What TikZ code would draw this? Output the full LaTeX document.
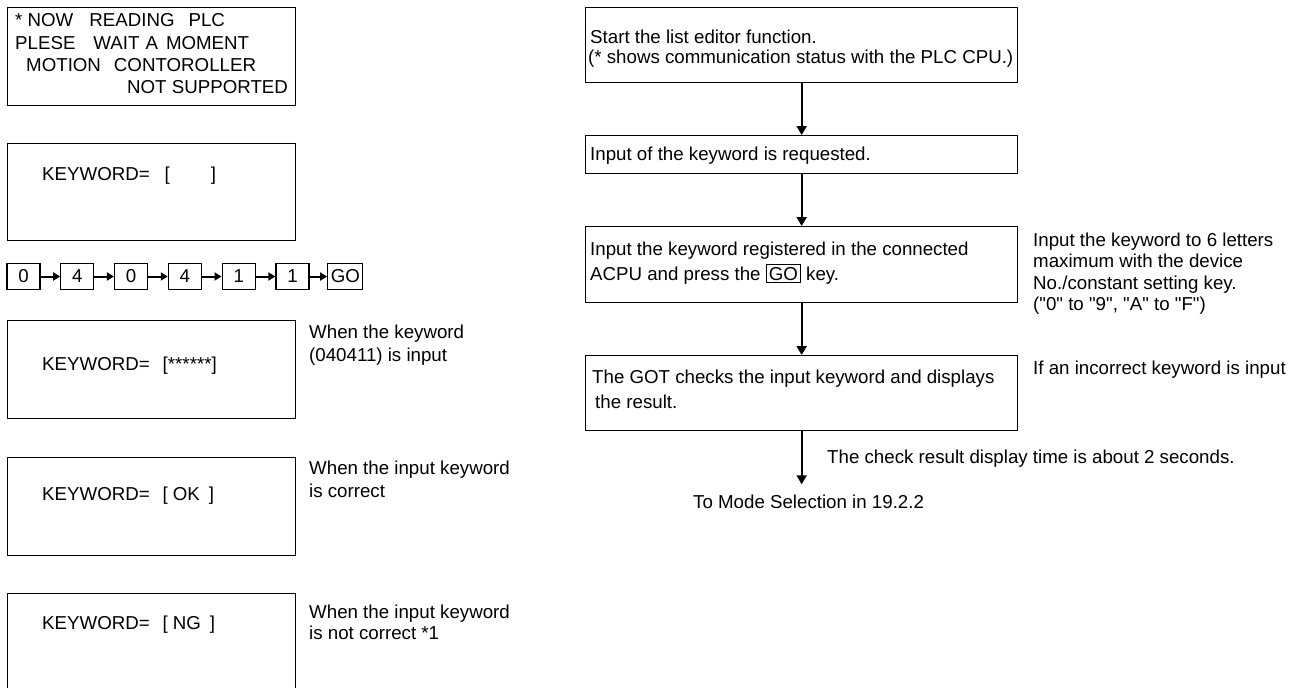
\documentclass[tikz,border=0pt]{standalone}
\usepackage{fontspec}
\setmainfont{Liberation Sans}[Ligatures=TeXOff]
\usetikzlibrary{arrows.meta,positioning,calc}

\tikzset{
  screen/.style={draw,line width=1.3pt,anchor=north west,inner sep=0pt,
    minimum width=288pt,minimum height=98pt},
  flowbox/.style={draw,line width=1.3pt,anchor=north west,inner sep=0pt,
    minimum width=432pt},
  txt/.style={anchor=base west,inner sep=0pt,align=left},
  txtblock/.style={anchor=north west,inner sep=0pt,align=left},
  keyrect/.style={draw,line width=1.3pt,minimum width=33pt,minimum height=26pt,inner sep=0pt},
  flowarrow/.style={line width=2pt,-{Triangle[length=9pt,width=10pt]}},
  keyarrow/.style={line width=2pt,-{Triangle[length=7pt,width=8pt]}}
}
\newcommand{\keyframe}[1]{{\fboxsep=2pt\fboxrule=1pt\fbox{#1}}}

\begin{document}
\begin{tikzpicture}[x=1pt,y=-1pt,font=\fontsize{18.7}{22}\selectfont]
\useasboundingbox (0,0) rectangle (1299,688);

% GOT screens (left column)
\node[screen] (scr1) at (7,7) {};
\node[txtblock,font=\fontsize{18.7}{22.4}\selectfont] (scr1txt) at ($(scr1.north west)+(8,6.4)$)
  {*\ NOW\hspace{16pt}READING\hspace{14pt}PLC\\
   PLESE\hspace{18pt}WAIT\hspace{6pt}A\hspace{8pt}MOMENT\\
   \hspace*{11pt}MOTION\hspace{13pt}CONTOROLLER\\
   \hspace*{112pt}NOT SUPPORTED};

\node[screen,minimum height=97pt] (scr2) at (7,143) {};
\node[txt] (scr2txt) at ($(scr2.north west)+(35,37)$) {KEYWORD=\hspace{15pt}[\hspace{41pt}]};

% key sequence
\node[keyrect] (key1) at (23.5,276.5) {0};
\foreach \k/\prev/\lbl in {2/1/4,3/2/0,4/3/4,5/4/1,6/5/1}
  \node[keyrect,right=19.5pt of key\prev] (key\k) {\lbl};
\node[keyrect,minimum width=35pt,right=17.5pt of key6] (key7) {GO};
\foreach \a/\b in {1/2,2/3,3/4,4/5,5/6,6/7}
  \draw[keyarrow] (key\a) -- (key\b);

\node[screen] (scr3) at (7,320) {};
\node[txt] (scr3txt) at ($(scr3.north west)+(35,50)$) {KEYWORD=\hspace{13pt}[******]};
\node[txtblock] (note3) at (309,324.4) {When the keyword\\[1pt](040411) is input};

\node[screen] (scr4) at (7,457) {};
\node[txt] (scr4txt) at ($(scr4.north west)+(35,43)$) {KEYWORD=\hspace{13pt}[\hspace{5pt}OK\hspace{9pt}]};
\node[txtblock] (note4) at (309,460.4) {When the input keyword\\[1.5pt]is correct};

\node[screen,minimum height=110pt] (scr5) at (7,593) {};
\node[txt] (scr5txt) at ($(scr5.north west)+(35,36)$) {KEYWORD=\hspace{13pt}[\hspace{5pt}NG\hspace{9pt}]};
\node[txtblock] (note5) at (309,604.4) {When the input keyword\\[-1pt]is not correct *1};

% flow of operation (right column)
\node[flowbox,minimum height=75pt] (start) at (585,7) {};
\node[txtblock] (starttxt) at ($(start.north west)+(3,22.4)$)
  {\hspace*{2pt}Start the list editor function.\\[-1.5pt](* shows communication status with the PLC CPU.)};

\node[flowbox,minimum height=38pt] (request) at (585,135) {};
\node[txt] (requesttxt) at ($(request.north west)+(5,25)$) {Input of the keyword is requested.};

\node[flowbox,minimum height=76pt] (entry) at (585,226) {};
\node[txtblock] (entrytxt) at ($(entry.north west)+(5,15.4)$)
  {Input the keyword registered in the connected\\[3pt]ACPU and press the \keyframe{GO} key.};
\node[txtblock] (entrynote) at (1033,232.4)
  {Input the keyword to 6 letters\\[-0.5pt]maximum with the device\\[-0.5pt]No./constant setting key.\\[-0.5pt]("0" to "9", "A" to "F")};

\node[flowbox,minimum height=75pt] (check) at (585,355) {};
\node[txtblock] (checktxt) at ($(check.north west)+(7,14.4)$)
  {The GOT checks the input keyword and displays\\[3pt]\hspace*{3pt}the result.};
\node[txt] (checknote) at (1033,374) {If an incorrect keyword is input};

\coordinate (modesel) at ($(check.south)+(0,53)$);
\node[txt] (timenote) at (827,463) {The check result display time is about 2 seconds.};
\node[txt] (modetxt) at (693,508) {To Mode Selection in 19.2.2};

\draw[flowarrow] (start) -- (request);
\draw[flowarrow] (request) -- (entry);
\draw[flowarrow] (entry) -- (check);
\draw[flowarrow] (check.south) -- (modesel);
\end{tikzpicture}
\end{document}
